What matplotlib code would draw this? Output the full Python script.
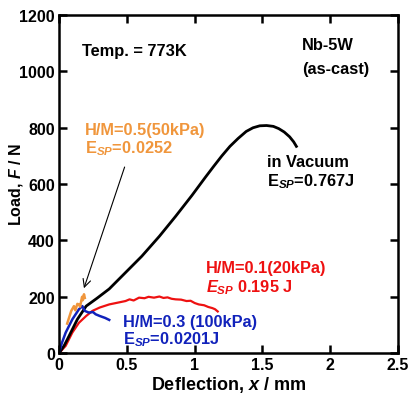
import matplotlib
matplotlib.use("Agg")
import matplotlib.pyplot as plt

plt.rcParams["font.family"] = ["Liberation Sans", "DejaVu Sans"]
plt.rcParams["font.weight"] = "bold"
plt.rcParams["mathtext.fontset"] = "custom"
plt.rcParams["mathtext.rm"] = "Liberation Sans:bold"
plt.rcParams["mathtext.bf"] = "Liberation Sans:bold"
plt.rcParams["mathtext.it"] = "Liberation Sans:italic:bold"

# in vacuum
vac_x = [0, 0.037, 0.074, 0.135, 0.2, 0.28, 0.37, 0.49, 0.61, 0.74, 0.86, 0.98, 1.08, 1.14, 1.2, 1.26, 1.32, 1.38, 1.43, 1.48, 1.53, 1.58, 1.62, 1.66, 1.7, 1.73, 1.75]
vac_y = [0, 26, 61, 120, 167, 195, 228, 286, 344, 415, 486, 560, 625, 663, 700, 734, 762, 787, 800, 807, 808, 805, 797, 785, 768, 750, 734]

# H/M=0.1 (20kPa)
red_x = [0, 0.049, 0.098, 0.147, 0.2, 0.246, 0.3, 0.37, 0.43, 0.49, 0.52, 0.55, 0.59, 0.63, 0.66, 0.7, 0.74, 0.77, 0.8, 0.83, 0.86, 0.9, 0.94, 0.97, 1.0, 1.03, 1.07, 1.1, 1.13, 1.15, 1.17]
red_y = [0, 26, 73, 108, 132, 150, 162, 173, 179, 185, 191, 187, 197, 195, 200, 197, 201, 196, 198, 193, 191, 190, 185, 186, 178, 173, 170, 164, 160, 156, 148]

# H/M=0.3 (100kPa)
blue_x = [0, 0.02, 0.049, 0.098, 0.147, 0.172, 0.19, 0.22, 0.25, 0.27, 0.3, 0.34, 0.37]
blue_y = [0, 35, 73, 120, 156, 167, 150, 144, 146, 138, 132, 125, 118]

# H/M=0.5 (50kPa)
org_x = [0.06, 0.074, 0.09, 0.11, 0.12, 0.135, 0.147, 0.155, 0.17, 0.175, 0.184, 0.19]
org_y = [105, 126, 150, 167, 152, 175, 173, 165, 200, 188, 209, 196]

fig = plt.figure(figsize=(4.1, 4.02), dpi=100)
ax = fig.add_axes([0.144, 0.119, 0.827, 0.841])

ax.plot(red_x, red_y, color="#ee1111", lw=1.6)
ax.plot(vac_x, vac_y, color="black", lw=2.0)
ax.plot(blue_x, blue_y, color="#1122bb", lw=1.8)
ax.plot(org_x, org_y, color="#f0963c", lw=1.8)

ax.annotate("", xy=(0.177, 221), xytext=(0.49, 670),
            arrowprops=dict(arrowstyle="->", color="black", lw=0.8,
                            mutation_scale=14))

ax.set_xlim(0, 2.5)
ax.set_ylim(0, 1200)
ax.set_xticks([0, 0.5, 1, 1.5, 2, 2.5])
ax.set_xticklabels(["0", "0.5", "1", "1.5", "2", "2.5"])
ax.set_yticks([0, 200, 400, 600, 800, 1000, 1200])
ax.tick_params(direction="in", length=6, width=1.8, top=True, right=True,
               labelsize=11.5, pad=3)
for s in ax.spines.values():
    s.set_linewidth(1.8)

ax.set_xlabel("Deflection, $\\it{x}$ / mm", fontsize=13, fontweight="bold", labelpad=1)
ax.set_ylabel("Load, $\\it{F}$ / N", fontsize=11.5, fontweight="bold", labelpad=-4)

fs = 11.8
ax.text(0.17, 1076, "Temp. = 773K", fontsize=fs, va="center")
ax.text(1.79, 1094, "Nb-5W", fontsize=fs, va="center")
ax.text(1.79, 1012, "(as-cast)", fontsize=fs, va="center")

ax.text(0.19, 793, "H/M=0.5(50kPa)", fontsize=fs, va="center", color="#f0963c")
ax.text(0.19, 729, "E$_{\\it{SP}}$=0.0252", fontsize=fs, va="center", color="#f0963c")

ax.text(1.53, 680, "in Vacuum", fontsize=fs, va="center")
ax.text(1.53, 612, "E$_{\\it{SP}}$=0.767J", fontsize=fs, va="center")

ax.text(1.08, 304, "H/M=0.1(20kPa)", fontsize=fs, va="center", color="#ee1111")
ax.text(1.08, 237, "$\\it{E}_{\\it{SP}}$ 0.195 J", fontsize=fs, va="center", color="#ee1111")

ax.text(0.47, 113, "H/M=0.3 (100kPa)", fontsize=fs, va="center", color="#1122bb")
ax.text(0.47, 50, "E$_{\\it{SP}}$=0.0201J", fontsize=fs, va="center", color="#1122bb")

fig.savefig("out.png", dpi=100)
